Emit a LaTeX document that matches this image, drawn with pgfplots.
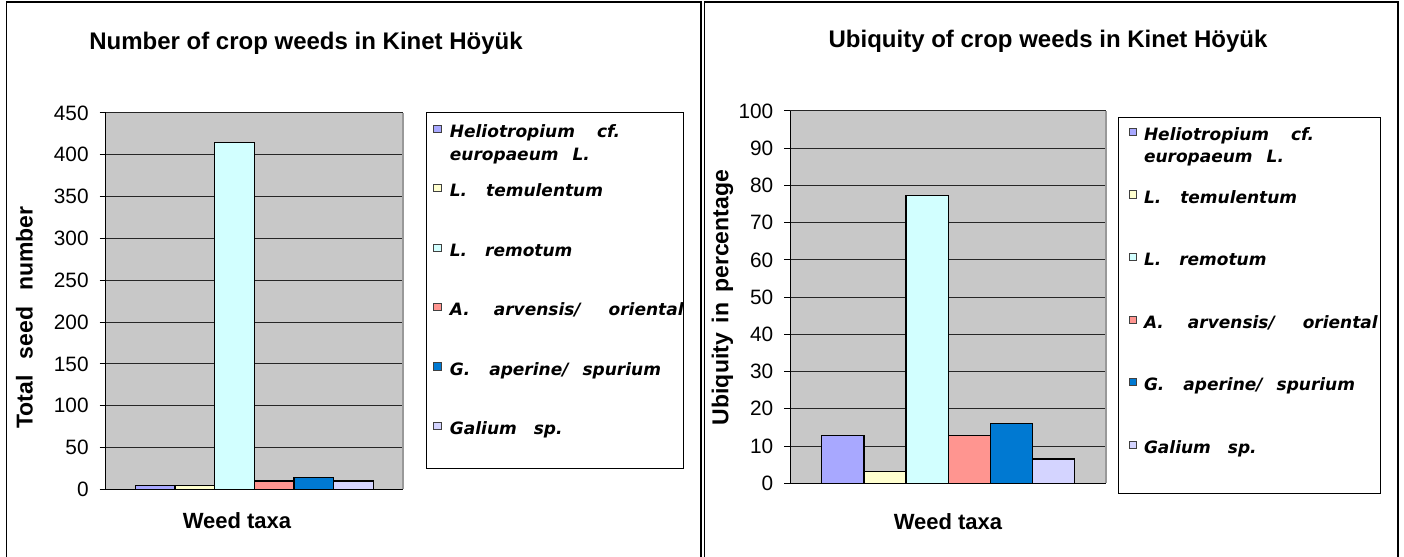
\documentclass[border=0pt]{standalone}
\usepackage{fontspec}
\setmainfont{Liberation Sans}
\newfontfamily\legfont{DejaVu Sans}
\usepackage{pgfplots}
\pgfplotsset{compat=1.18}
\definecolor{plotbg}{HTML}{C8C8C8}
\definecolor{cA}{HTML}{A8A8FF}
\definecolor{cB}{HTML}{FFFFCF}
\definecolor{cC}{HTML}{D2FFFF}
\definecolor{cD}{HTML}{FF9590}
\definecolor{cE}{HTML}{0079D2}
\definecolor{cF}{HTML}{D4D4FF}
\pgfplotsset{
  mybase/.style={
    scale only axis, ybar, bar width=0.13333,
    every axis plot/.append style={bar shift=0pt, draw=black, line width=0.6pt},
    xmin=-0.5, xmax=0.5, ymin=0,
    xtick=\empty,
    axis x line*=bottom, axis y line*=left,
    axis background/.style={fill=plotbg},
    axis line style={black, line width=0.7pt},
    ymajorgrids, grid style={black!85, line width=0.5pt},
    tick align=outside, major tick length=3pt,
    tick style={black, line width=0.5pt},
    yticklabel style={font=\fontsize{10.4}{12}\selectfont, xshift=-2pt},
    /pgf/number format/assume math mode=true,
    xlabel style={anchor=base, font=\bfseries\fontsize{11}{13}\selectfont},
    ylabel style={anchor=center, font=\bfseries\fontsize{11.5}{13}\selectfont},
    title style={anchor=base, yshift=-6pt, font=\bfseries\fontsize{12}{14}\selectfont},
    after end axis/.code={\draw[color=black!40, line width=1pt] (rel axis cs:1,0) -- (rel axis cs:1,1);},
    legend cell align=left,
  },
}
\begin{document}
\begin{tikzpicture}
\useasboundingbox (0pt,0pt) rectangle (702pt,278.5pt);
\draw[line width=0.7pt] (3.25pt,-2pt) -- (3.25pt,277.5pt) -- (350.5pt,277.5pt) -- (350.5pt,-2pt);
\draw[line width=0.7pt] (352.25pt,-2pt) -- (352.25pt,277.5pt) -- (699pt,277.5pt) -- (699pt,-2pt);

\begin{axis}[mybase,
  at={(52.85pt,33.85pt)}, anchor=south west,
  width=148.65pt, height=188.15pt,
  ymax=450, ytick={0,50,...,450},
  title={Number of crop weeds in Kinet Höyük},
  title style={at={(axis description cs:0.6737,1.170)}},
  xlabel={Weed taxa},
  xlabel style={at={(axis description cs:0.4416,-0.1055)}},
  ylabel={Total\hspace{8pt}seed\hspace{8pt}number},
  ylabel style={at={(axis description cs:-0.2731,0.4566)}},
  legend image code/.code={\path[draw=none,fill=none] (0pt,0pt) -- (11.65pt,0pt); \draw[#1, draw=black!75, line width=0.5pt] (3.65pt,2.5pt) rectangle (7.25pt,6.1pt);},
  legend style={at={(1.0774,1.0034)}, anchor=north west, draw=black, line width=0.6pt, fill=white,
    inner sep=0pt, row sep=0pt, column sep=0pt,
    font=\legfont\bfseries\itshape\fontsize{8.5}{11.5}\selectfont,
    cells={anchor=base west},
    nodes={inner sep=0pt, text height=12.6pt, text depth=17.1pt, text width=116.85pt, align=left}},
]
\addplot[fill=cA] coordinates {(-0.33333,5)};
\addlegendentry{\mbox{Heliotropium\hspace*{11pt}cf.}\\\mbox{europaeum\hspace*{7pt}L.}}
\addplot[fill=cB] coordinates {(-0.2,5)};
\addlegendentry{\mbox{L.\hspace*{9.5pt}temulentum}}
\addplot[fill=cC] coordinates {(-0.066667,415)};
\addlegendentry{\mbox{L.\hspace*{9pt}remotum}}
\addplot[fill=cD] coordinates {(0.066667,10)};
\addlegendentry{\mbox{A.\hspace*{12pt}arvensis/\hspace*{14pt}oriental}}
\addplot[fill=cE] coordinates {(0.2,14)};
\addlegendentry{\mbox{G.\hspace*{9.5pt}aperine/\hspace*{7pt}spurium}}
\addplot[fill=cF] coordinates {(0.33333,10)};
\addlegendentry{\mbox{Galium\hspace*{8.5pt}sp.}}
\end{axis}

\begin{axis}[mybase,
  at={(395.15pt,36.85pt)}, anchor=south west,
  width=157.85pt, height=186.15pt,
  ymax=100, ytick={0,10,...,100},
  title={Ubiquity of crop weeds in Kinet Höyük},
  title style={at={(axis description cs:0.8163,1.1692)}},
  xlabel={Weed taxa},
  xlabel style={at={(axis description cs:0.4995,-0.1228)}},
  ylabel={Ubiquity\hspace{5pt}in\hspace{5pt}percentage},
  ylabel style={at={(axis description cs:-0.2148,0.499)}},
  legend image code/.code={\path[draw=none,fill=none] (0pt,0pt) -- (12.7pt,0pt); \draw[#1, draw=black!75, line width=0.5pt] (5.5pt,2.5pt) rectangle (9.1pt,6.1pt);},
  legend style={at={(1.038,0.9839)}, anchor=north west, draw=black, line width=0.6pt, fill=white,
    inner sep=0pt, row sep=0pt, column sep=0pt,
    font=\legfont\bfseries\itshape\fontsize{8.5}{11}\selectfont,
    cells={anchor=base west},
    nodes={inner sep=0pt, text height=11.5pt, text depth=19.8pt, text width=118.3pt, align=left}},
]
\addplot[fill=cA] coordinates {(-0.33333,12.9)};
\addlegendentry{\mbox{Heliotropium\hspace*{11pt}cf.}\\\mbox{europaeum\hspace*{7pt}L.}}
\addplot[fill=cB] coordinates {(-0.2,3.2)};
\addlegendentry{\mbox{L.\hspace*{9.5pt}temulentum}}
\addplot[fill=cC] coordinates {(-0.066667,77.4)};
\addlegendentry{\mbox{L.\hspace*{9pt}remotum}}
\addplot[fill=cD] coordinates {(0.066667,12.9)};
\addlegendentry{\mbox{A.\hspace*{12pt}arvensis/\hspace*{14pt}oriental}}
\addplot[fill=cE] coordinates {(0.2,16.1)};
\addlegendentry{\mbox{G.\hspace*{9.5pt}aperine/\hspace*{7pt}spurium}}
\addplot[fill=cF] coordinates {(0.33333,6.5)};
\addlegendentry{\mbox{Galium\hspace*{8.5pt}sp.}}
\end{axis}
\end{tikzpicture}
\end{document}
